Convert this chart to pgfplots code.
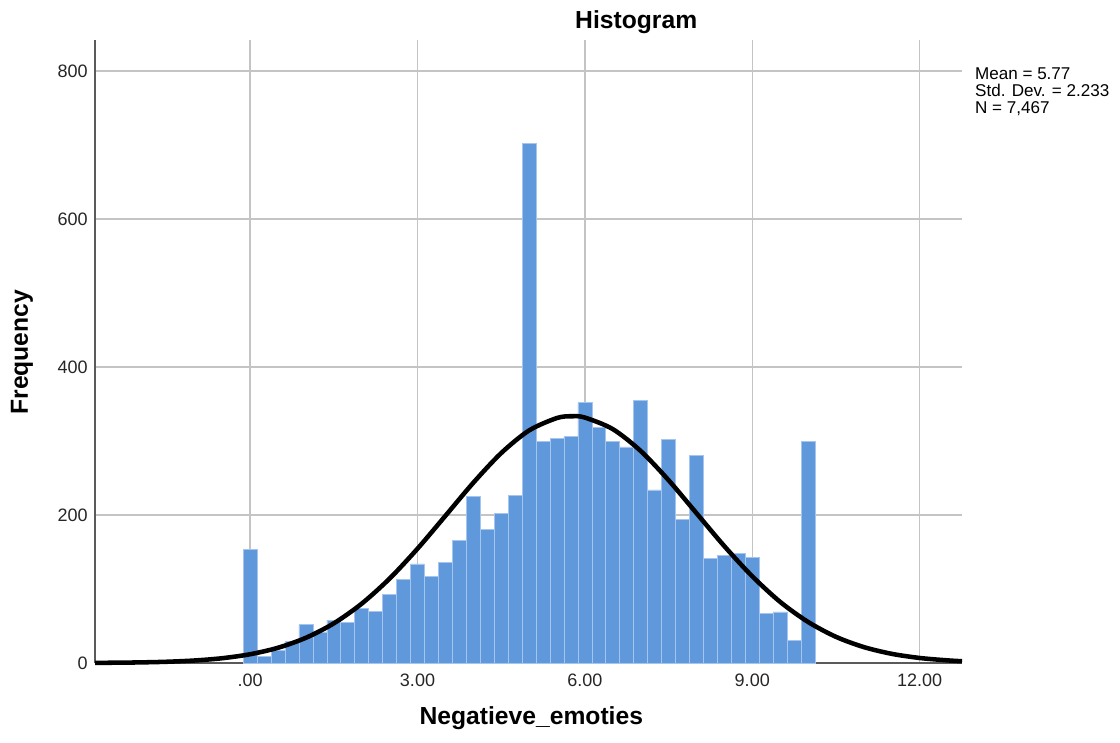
\documentclass[border=0pt]{standalone}
\usepackage{fontspec}
\setmainfont{Liberation Sans}
\usepackage{pgfplots}
\pgfplotsset{compat=1.18}

\definecolor{barblue}{RGB}{96,152,220}
\definecolor{baredge}{RGB}{166,197,238}
\definecolor{gridgray}{RGB}{196,196,196}
\definecolor{axgray}{RGB}{90,90,90}

\begin{document}
\begin{tikzpicture}
\begin{axis}[
  scale only axis,
  width=650.25pt, height=467.25pt,
  xmin=-2.78, xmax=12.76,
  ymin=0, ymax=842,
  axis x line=bottom, axis y line=left,
  axis line style={axgray, line width=0.8pt, -},
  xtick={0,3,6,9,12},
  xticklabels={.00,3.00,6.00,9.00,12.00},
  ytick={0,200,400,600,800},
  major tick length=0pt,
  grid=major,
  major grid style={gridgray, line width=1pt},
  tick label style={font=\fontsize{13.5}{16}\selectfont, text=black!85},
  /pgf/number format/assume math mode=true,
  xticklabel style={yshift=-5pt},
  yticklabel style={xshift=-2pt},
  clip=false,
]
% bin counts, bins of width 0.25 centred on 0, 0.25, ..., 10
\addplot[ybar, bar width=0.25, fill=barblue, draw=baredge, line width=0.5pt] coordinates {
  (0,154) (0.25,9) (0.5,17) (0.75,29) (1,52) (1.25,42) (1.5,58) (1.75,55)
  (2,74) (2.25,70) (2.5,93) (2.75,113) (3,134) (3.25,117) (3.5,136) (3.75,166)
  (4,225) (4.25,181) (4.5,202) (4.75,227) (5,702) (5.25,299) (5.5,303) (5.75,306)
  (6,352) (6.25,318) (6.5,300) (6.75,292) (7,355) (7.25,234) (7.5,302) (7.75,194)
  (8,281) (8.25,141) (8.5,145) (8.75,148) (9,143) (9.25,67) (9.5,69) (9.75,30)
  (10,299)
};
% fitted normal curve
\addplot[black, line width=3.4pt, smooth] coordinates {
  (-2.78,0.21) (-2.5,0.35) (-2,0.78) (-1.5,1.66) (-1,3.37) (-0.5,6.47)
  (0,11.84) (0.5,20.6) (1,34.1) (1.5,53.6) (2,80.2) (2.5,114.1)
  (3,154.5) (3.5,198.9) (4,243.6) (4.5,283.7) (5,314.3) (5.5,331.1)
  (5.77,333.5) (6,331.7) (6.5,316.1) (7,286.6) (7.5,247.1) (8,202.5)
  (8.5,157.9) (9,117.2) (9.5,82.6) (10,55.5) (10.5,35.4) (11,21.5)
  (11.5,12.4) (12,6.80) (12.5,3.55) (12.76,2.4)
};
\node[font=\bfseries\fontsize{18.5}{20}\selectfont] at (axis cs:6.92,866) {Histogram};
\node[font=\bfseries\fontsize{18.5}{20}\selectfont] at (axis cs:5.04,-74) {Negatieve\_emoties};
\node[font=\bfseries\fontsize{18.5}{20}\selectfont, rotate=90] at (axis cs:-4.09,420) {Frequency};
\node[anchor=north west, inner sep=0pt, align=left, font=\fontsize{12.8}{12.8}\selectfont]
  at (axis cs:12.99,805) {Mean = 5.77\\Std. Dev. = 2.233\\N = 7,467};
\coordinate (bl) at (rel axis cs:-0.1096,-0.1268);
\coordinate (tr) at (rel axis cs:1.1822,1.0642);
\end{axis}
\pgfresetboundingbox
\path[use as bounding box] (bl) rectangle (tr);
\end{tikzpicture}
\end{document}
